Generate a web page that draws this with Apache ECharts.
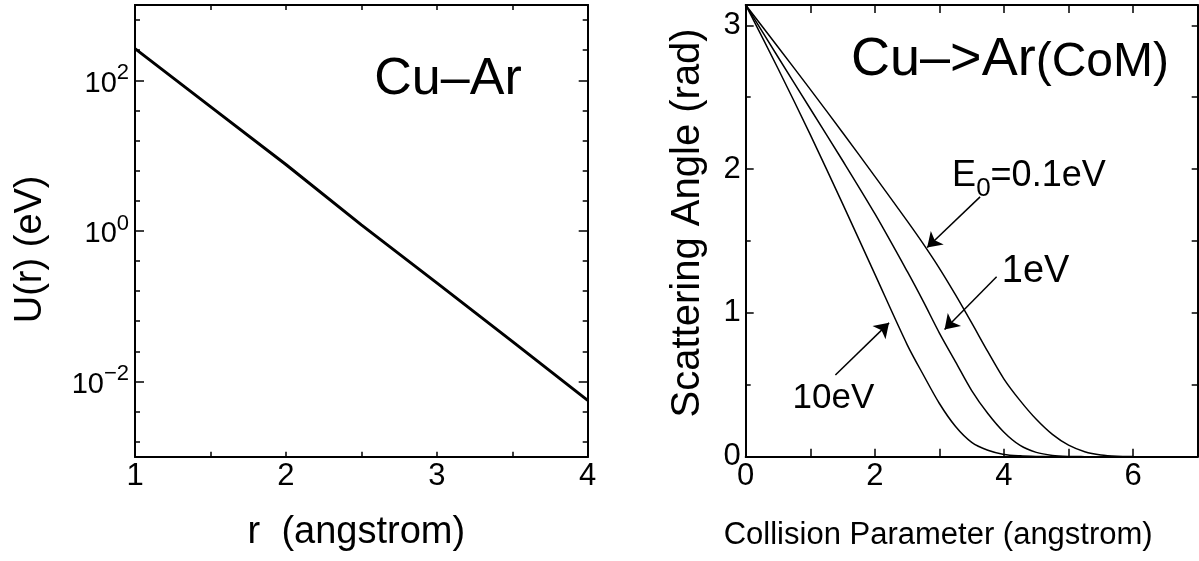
<!DOCTYPE html>
<html>
<head>
<meta charset="utf-8">
<script src="https://cdn.jsdelivr.net/npm/echarts@6/dist/echarts.min.js"></script>
<style>
html, body { margin: 0; padding: 0; background: #fff; }
#chart { width: 1199px; height: 561px; }
</style>
</head>
<body>
<div id="chart"></div>
<script>
// ---- Left panel: Cu–Ar repulsive potential U(r) on a log scale ----
const rValues = [1, 1.5, 2, 2.5, 3, 3.5, 4];
const uValues = [263, 44.7, 7.6, 1.2, 0.204, 0.034, 0.0056];
const rTickValues = [1.5, 2, 2.5, 3, 3.5];
const rLabelValues = [1, 2, 3, 4];
const uMajorTicks = [0.01, 1, 100];
const uMinorTicks = [0.001585, 0.003981, 0.02512, 0.0631, 0.1585, 0.3981,
                     2.512, 6.31, 15.85, 39.81, 251.2, 631.0];

// ---- Right panel: scattering angle vs collision parameter ----
const bValues = [0, 0.5, 1, 1.5, 2, 2.5, 2.75, 3, 3.25, 3.5, 3.75, 4, 4.25,
                 4.5, 4.75, 5, 5.25, 5.5, 5.75, 6, 6.5, 7];
const theta10eV = [3.142, 2.70, 2.24, 1.76, 1.27, 0.78, 0.57, 0.37, 0.21, 0.10,
                   0.045, 0.016, 0.006, 0.002, 0.0005, 0, 0, 0, 0, 0, 0, 0];
const theta1eV = [3.142, 2.78, 2.42, 2.06, 1.69, 1.29, 1.08, 0.86, 0.66, 0.46,
                  0.30, 0.17, 0.078, 0.03, 0.009, 0.002, 0.0005, 0, 0, 0, 0, 0];
const theta01eV = [3.142, 2.85, 2.555, 2.255, 1.95, 1.64, 1.48, 1.31, 1.125, 0.93,
                   0.73, 0.54, 0.39, 0.26, 0.155, 0.08, 0.035, 0.012, 0.003, 0.0008, 0, 0];
const bTickValues = [1, 2, 3, 4, 5, 6];
const bLabelValues = [0, 2, 4, 6];
const thetaMajorTicks = [0, 1, 2, 3];
const thetaMinorTicks = [0.5, 1.5, 2.5];
const thetaRightTicks = [0.5, 1, 1.5, 2, 2.5, 3];

const FONT = '"Liberation Sans", Arial, Helvetica, sans-serif';
const BLACK = '#000';

const zip = (xs, ys) => xs.map((x, i) => [x, ys[i]]);

const axisLine = { show: true, onZero: false, lineStyle: { color: BLACK, width: 2 } };
const tick = (values, len) => ({
  show: true, inside: true, length: len, customValues: values,
  lineStyle: { color: BLACK, width: 1.5 }
});
const noLabel = { show: false };
const tickLabel = (values, margin) => ({
  show: true, customValues: values, margin: margin,
  color: BLACK, fontFamily: FONT, fontSize: 31
});

// power-of-ten labels, e.g. 10^-2
const powerLabel = {
  show: true, customValues: uMajorTicks, margin: 6,
  formatter: v => {
    const e = Math.round(Math.log10(v));
    return '{b|10}{s|' + (e < 0 ? '\u2212' + (-e) : e) + '}';
  },
  rich: {
    b: { fontFamily: FONT, fontSize: 29, color: BLACK, lineHeight: 36, verticalAlign: 'bottom' },
    s: { fontFamily: FONT, fontSize: 22, color: BLACK, lineHeight: 22, verticalAlign: 'top' }
  }
};

const nameStyle = (size, padding) => ({
  fontFamily: FONT, fontSize: size, color: BLACK, padding: padding
});

// annotation arrow from a label towards a curve, in data coordinates
const arrow = (from, to) => ({
  silent: true, symbol: ['none', 'arrow'], symbolSize: 14,
  label: { show: false }, emphasis: { disabled: true },
  lineStyle: { color: BLACK, width: 1.5, type: 'solid' },
  itemStyle: { color: BLACK },
  data: [[{ coord: from }, { coord: to }]]
});

const curveLabel = (coord, label) => ({
  silent: true, symbol: 'circle', symbolSize: 1, itemStyle: { color: 'rgba(0,0,0,0)' },
  label: Object.assign({ show: true, position: 'inside', color: BLACK, fontFamily: FONT }, label),
  data: [{ coord: coord, value: 0 }]
});

const option = {
  animation: false,
  backgroundColor: '#fff',
  grid: [
    { left: 135, top: 5, width: 452.7, height: 451.7 },
    { left: 745.7, top: 5, width: 452, height: 451.7 }
  ],
  xAxis: [
    { gridIndex: 0, type: 'value', position: 'bottom', min: 1, max: 4,
      axisLine, axisTick: tick(rTickValues, 5), axisLabel: tickLabel(rLabelValues, 4),
      splitLine: { show: false },
      name: 'r  (angstrom)', nameLocation: 'middle', nameGap: 57,
      nameTextStyle: nameStyle(38, [0, 10, 0, 0]) },
    { gridIndex: 0, type: 'value', position: 'top', min: 1, max: 4,
      axisLine, axisTick: tick(rTickValues, 5), axisLabel: noLabel, splitLine: { show: false } },
    { gridIndex: 1, type: 'value', position: 'bottom', min: 0, max: 7,
      axisLine, axisTick: tick(bTickValues, 8), axisLabel: tickLabel(bLabelValues, 4),
      splitLine: { show: false },
      name: 'Collision Parameter (angstrom)', nameLocation: 'middle', nameGap: 63,
      nameTextStyle: nameStyle(31, [0, 67, 0, 0]) },
    { gridIndex: 1, type: 'value', position: 'top', min: 0, max: 7,
      axisLine, axisTick: tick(bTickValues, 8), axisLabel: noLabel, splitLine: { show: false } }
  ],
  yAxis: [
    { gridIndex: 0, type: 'log', logBase: 10, position: 'left', min: 0.001, max: 1000,
      axisLine, axisTick: tick(uMajorTicks, 9), axisLabel: powerLabel,
      splitLine: { show: false }, minorTick: { show: false },
      name: 'U(r) (eV)', nameLocation: 'middle', nameGap: 85,
      nameTextStyle: nameStyle(38, [0, 37, 0, 0]) },
    { gridIndex: 0, type: 'log', logBase: 10, position: 'left', min: 0.001, max: 1000,
      axisLine, axisTick: tick(uMinorTicks, 5), axisLabel: noLabel, splitLine: { show: false } },
    { gridIndex: 0, type: 'log', logBase: 10, position: 'right', min: 0.001, max: 1000,
      axisLine, axisTick: tick(uMajorTicks, 9), axisLabel: noLabel, splitLine: { show: false } },
    { gridIndex: 0, type: 'log', logBase: 10, position: 'right', min: 0.001, max: 1000,
      axisLine, axisTick: tick(uMinorTicks, 5), axisLabel: noLabel, splitLine: { show: false } },
    { gridIndex: 1, type: 'value', position: 'left', min: 0, max: Math.PI,
      axisLine, axisTick: tick(thetaMajorTicks, 8), axisLabel: tickLabel(thetaMajorTicks, 5),
      splitLine: { show: false },
      name: 'Scattering Angle (rad)', nameLocation: 'middle', nameGap: 38,
      nameTextStyle: nameStyle(40, [0, 0, 0, 16]) },
    { gridIndex: 1, type: 'value', position: 'left', min: 0, max: Math.PI,
      axisLine, axisTick: tick(thetaMinorTicks, 5), axisLabel: noLabel, splitLine: { show: false } },
    { gridIndex: 1, type: 'value', position: 'right', min: 0, max: Math.PI,
      axisLine, axisTick: tick(thetaRightTicks, 6), axisLabel: noLabel, splitLine: { show: false } }
  ],
  graphic: [
    { type: 'text', x: 448, y: 80, silent: true,
      style: { text: 'Cu\u2013Ar', fontFamily: FONT, fontSize: 52, fill: BLACK,
               align: 'center', verticalAlign: 'middle' } },
    { type: 'text', x: 1010, y: 60, silent: true,
      style: { text: '{m|Cu\u2013>Ar}{c|(CoM)}', fill: BLACK,
               align: 'center', verticalAlign: 'middle',
               rich: {
                 m: { fontFamily: FONT, fontSize: 54, fill: BLACK, lineHeight: 54, verticalAlign: 'bottom' },
                 c: { fontFamily: FONT, fontSize: 48, fill: BLACK, lineHeight: 48, verticalAlign: 'bottom' }
               } } }
  ],
  series: [
    { type: 'line', name: 'U(r)', xAxisIndex: 0, yAxisIndex: 0,
      data: zip(rValues, uValues), showSymbol: false, symbol: 'none',
      lineStyle: { color: BLACK, width: 3 }, silent: true },
    { type: 'line', name: '10eV', xAxisIndex: 2, yAxisIndex: 4,
      data: zip(bValues, theta10eV), showSymbol: false, symbol: 'none', smooth: 0.3,
      itemStyle: { color: BLACK }, lineStyle: { color: BLACK, width: 1.5 }, silent: true,
      markLine: arrow([1.389, 0.568], [2.22, 0.931]),
      markPoint: curveLabel([1.358, 0.408], { fontSize: 35, formatter: '10eV' }) },
    { type: 'line', name: '1eV', xAxisIndex: 2, yAxisIndex: 4,
      data: zip(bValues, theta1eV), showSymbol: false, symbol: 'none', smooth: 0.3,
      itemStyle: { color: BLACK }, lineStyle: { color: BLACK, width: 1.5 }, silent: true,
      markLine: arrow([3.886, 1.251], [3.08, 0.885]),
      markPoint: curveLabel([4.489, 1.285], { fontSize: 38, formatter: '1eV' }) },
    { type: 'line', name: '0.1eV', xAxisIndex: 2, yAxisIndex: 4,
      data: zip(bValues, theta01eV), showSymbol: false, symbol: 'none', smooth: 0.3,
      itemStyle: { color: BLACK }, lineStyle: { color: BLACK, width: 1.5 }, silent: true,
      markLine: arrow([3.63, 1.807], [2.81, 1.455]),
      markPoint: curveLabel([4.386, 1.95], {
        formatter: '{a|E}{s|0}{a|=0.1eV}',
        rich: {
          a: { fontFamily: FONT, fontSize: 36, color: BLACK, lineHeight: 52, verticalAlign: 'middle' },
          s: { fontFamily: FONT, fontSize: 26, color: BLACK, lineHeight: 26, verticalAlign: 'bottom' }
        }
      }) }
  ]
};

const chart = echarts.init(document.getElementById('chart'), null, { renderer: 'canvas' });
chart.setOption(option);
</script>
</body>
</html>
